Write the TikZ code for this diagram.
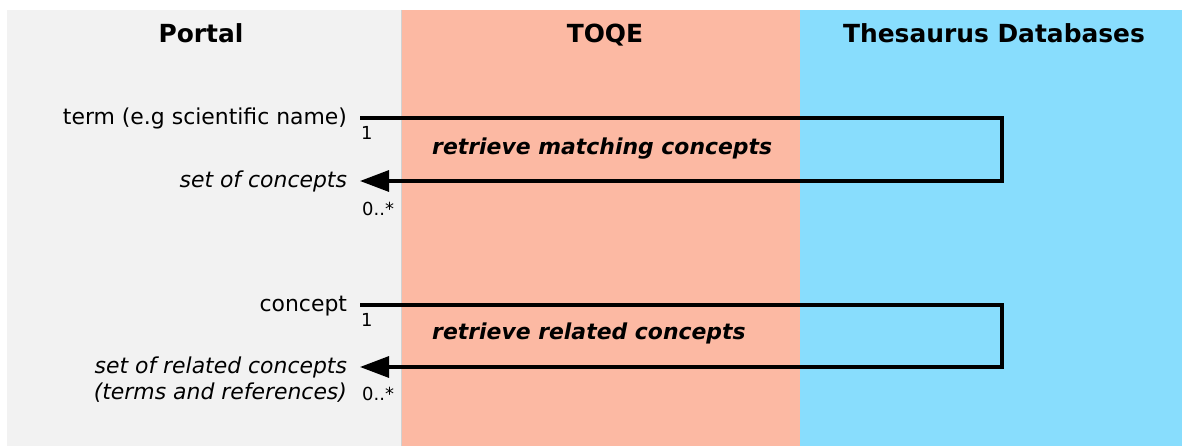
\documentclass[tikz,border=0pt]{standalone}
\usepackage{fontspec}
\setmainfont{DejaVu Sans}
\usetikzlibrary{arrows.meta}
\definecolor{portalbg}{HTML}{F2F2F2}
\definecolor{toqebg}{HTML}{FCB9A3}
\definecolor{thesbg}{HTML}{88DDFD}
\tikzset{
  colhead/.style={font=\fontsize{25}{29}\selectfont\bfseries, inner sep=0pt, anchor=base},
  lbl/.style={font=\fontsize{22}{26}\selectfont, inner sep=0pt, outer xsep=13bp, text height=15bp, text depth=1bp, anchor=east},
  ilbl/.style={lbl, font=\fontsize{22}{26}\selectfont\itshape},
  mult/.style={font=\fontsize{18}{22}\selectfont, inner sep=0pt, anchor=base west},
  oplbl/.style={font=\fontsize{22}{26}\selectfont\bfseries\itshape, inner sep=0pt, anchor=base west},
  msg/.style={line width=3.2bp, line join=miter, -{Triangle[length=29bp,width=21bp]}}
}
\begin{document}
\begin{tikzpicture}[x=1bp,y=-1bp]
\useasboundingbox (0,0) rectangle (1182,446);
\fill[white] (0,0) rectangle (1182,446);
% columns
\fill[portalbg] (7,10) rectangle (402,446);
\fill[toqebg] (402,10) rectangle (800,446);
\fill[thesbg] (800,10) rectangle (1182,446);
\draw[black!18, line width=1bp] (401.5,10) -- (401.5,446);
% headers
\node[colhead] (hp) at (201,43) {Portal};
\node[colhead] (ht) at (605,43) {TOQE};
\node[colhead] (hd) at (994,43) {Thesaurus Databases};
% first exchange
\node[lbl] (t1) at (360,118) {term (e.g scientific name)};
\node[ilbl] (s1) at (360,181) {set of concepts};
\coordinate (c1a) at (1002,118);
\coordinate (c1b) at (1002,181);
\draw[msg] (t1.east) -- (c1a) -- (c1b) -- (s1.east);
\node[mult] (m1a) at (361,140) {1};
\node[mult] (m1b) at (362,216) {0..*};
\node[oplbl] (o1) at (432,155) {retrieve matching concepts};
% second exchange
\node[lbl] (t2) at (360,305) {concept};
\node[ilbl] (s2) at (360,367) {set of related concepts};
\node[ilbl] (s2b) at (360,393) {(terms and references)};
\coordinate (c2a) at (1002,305);
\coordinate (c2b) at (1002,367);
\draw[msg] (t2.east) -- (c2a) -- (c2b) -- (s2.east);
\node[mult] (m2a) at (361,327) {1};
\node[mult] (m2b) at (362,401) {0..*};
\node[oplbl] (o2) at (432,340) {retrieve related concepts};
\end{tikzpicture}
\end{document}
